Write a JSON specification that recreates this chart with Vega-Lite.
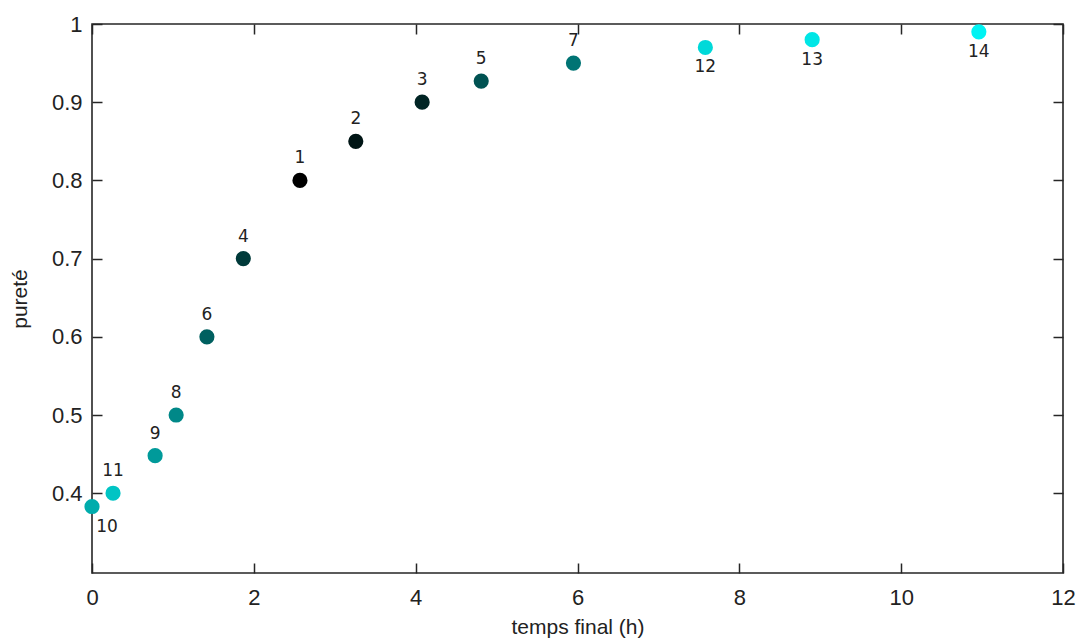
{
  "$schema": "https://vega.github.io/schema/vega-lite/v6.json",
  "width": 971,
  "height": 549,
  "autosize": {"type": "none"},
  "padding": {"left": 92, "top": 24, "right": 18, "bottom": 68},
  "background": "white",
  "config": {
    "view": {"stroke": "#262626", "strokeWidth": 1.6},
    "axis": {
      "domain": false,
      "grid": false,
      "tickColor": "#262626",
      "tickWidth": 1.5,
      "tickSize": -10,
      "labelFont": "Liberation Sans",
      "labelFontSize": 22,
      "labelColor": "#222222",
      "titleFont": "Liberation Sans",
      "titleFontSize": 21,
      "titleFontWeight": "normal",
      "titleColor": "#222222"
    }
  },
  "data": {
    "values": [
      {"id": 1, "t": 2.57, "p": 0.8},
      {"id": 2, "t": 3.26, "p": 0.85},
      {"id": 3, "t": 4.08, "p": 0.9},
      {"id": 4, "t": 1.87, "p": 0.7},
      {"id": 5, "t": 4.81, "p": 0.927},
      {"id": 6, "t": 1.42, "p": 0.6},
      {"id": 7, "t": 5.95, "p": 0.95},
      {"id": 8, "t": 1.04, "p": 0.5},
      {"id": 9, "t": 0.78, "p": 0.448},
      {"id": 10, "t": 0.0, "p": 0.383},
      {"id": 11, "t": 0.26, "p": 0.4},
      {"id": 12, "t": 7.58, "p": 0.97},
      {"id": 13, "t": 8.9, "p": 0.98},
      {"id": 14, "t": 10.96, "p": 0.99}
    ]
  },
  "encoding": {
    "x": {"field": "t", "type": "quantitative", "scale": {"domain": [0, 12], "nice": false, "zero": false}},
    "y": {"field": "p", "type": "quantitative", "scale": {"domain": [0.298, 1], "nice": false, "zero": false}}
  },
  "resolve": {"axis": {"x": "independent", "y": "independent"}},
  "layer": [
    {
      "mark": {"type": "circle", "size": 230, "opacity": 1},
      "encoding": {
        "x": {"field": "t", "type": "quantitative", "axis": {"orient": "bottom", "title": "temps final (h)", "values": [0, 2, 4, 6, 8, 10, 12], "labelPadding": 24, "titlePadding": 8, "labelFlush": false}},
        "y": {"field": "p", "type": "quantitative", "axis": {"orient": "left", "title": "pureté", "values": [0.4, 0.5, 0.6, 0.7, 0.8, 0.9, 1], "labelPadding": 20, "titlePadding": 21, "labelFlush": false, "format": "~g"}},
        "color": {
          "field": "id",
          "type": "nominal",
          "legend": null,
          "scale": {
            "domain": [1, 2, 3, 4, 5, 6, 7, 8, 9, 10, 11, 12, 13, 14],
            "range": ["#000000", "#001515", "#002424", "#003a3a", "#005252", "#006060", "#007474", "#008888", "#009a9a", "#00acac", "#00c4c4", "#00d9d9", "#00e6e6", "#00f3f3"]
          }
        }
      }
    },
    {
      "transform": [{"filter": {"field": "id", "oneOf": [1, 2, 3, 4, 5, 6, 7, 8, 9, 11]}}],
      "mark": {"type": "text", "dy": -22, "font": "DejaVu Sans", "fontSize": 17, "color": "#222222"},
      "encoding": {
        "x": {"field": "t", "type": "quantitative", "axis": {"orient": "top", "title": null, "labels": false, "values": [0, 2, 4, 6, 8, 10, 12]}},
        "y": {"field": "p", "type": "quantitative", "axis": {"orient": "right", "title": null, "labels": false, "values": [0.4, 0.5, 0.6, 0.7, 0.8, 0.9, 1]}},
        "text": {"field": "id", "type": "nominal"}
      }
    },
    {
      "transform": [{"filter": {"field": "id", "oneOf": [12, 13, 14]}}],
      "mark": {"type": "text", "dy": 20, "font": "DejaVu Sans", "fontSize": 17, "color": "#222222"},
      "encoding": {
        "x": {"field": "t", "type": "quantitative", "axis": null},
        "y": {"field": "p", "type": "quantitative", "axis": null},
        "text": {"field": "id", "type": "nominal"}
      }
    },
    {
      "transform": [{"filter": {"field": "id", "equal": 10}}],
      "mark": {"type": "text", "dy": 20, "dx": 15, "font": "DejaVu Sans", "fontSize": 17, "color": "#222222"},
      "encoding": {
        "x": {"field": "t", "type": "quantitative", "axis": null},
        "y": {"field": "p", "type": "quantitative", "axis": null},
        "text": {"field": "id", "type": "nominal"}
      }
    }
  ]
}
